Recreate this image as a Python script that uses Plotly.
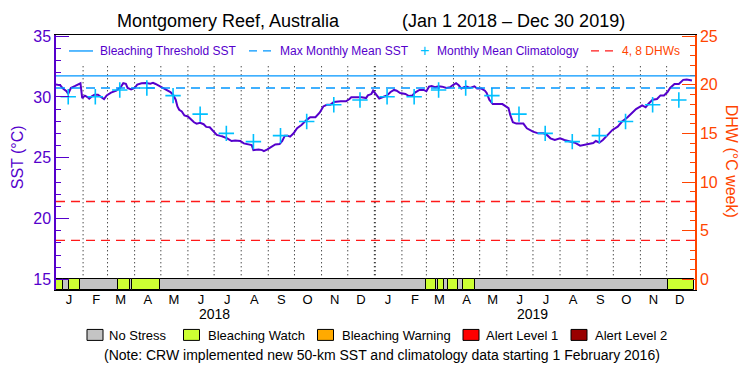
import pandas as pd
import plotly.graph_objects as go

# ---------------- data ----------------
START = "2018-01-01"
sst_day = [0, 5, 8, 12, 14, 17, 22, 27, 28, 30,
           33, 36, 38, 41, 44, 48, 51, 55, 58, 63,
           69, 74, 77, 80, 82, 86, 90, 93, 98, 103,
           108, 111, 114, 117, 121, 124, 128, 131, 134, 137,
           139, 141, 144, 147, 151, 154, 158, 161, 165, 169,
           172, 176, 180, 184, 188, 190, 196, 201, 205, 211,
           215, 220, 224, 226, 232, 236, 238, 242, 247, 251,
           256, 259, 262, 265, 268, 272, 276, 281, 287, 291,
           297, 302, 306, 310, 314, 318, 326, 332, 336, 338,
           350, 355, 357, 361, 363, 366, 370, 375, 379, 383,
           387, 390, 394, 400, 404, 408, 411, 416, 421, 424,
           427, 430, 434, 438, 442, 447, 451, 454, 458, 461,
           464, 467, 470, 474, 479, 482, 487, 491, 493, 496,
           500, 511, 515, 518, 520, 523, 527, 535, 539, 542,
           546, 552, 558, 562, 566, 571, 577, 582, 588, 594,
           600, 604, 609, 615, 618, 622, 626, 632, 637, 643,
           648, 654, 659, 664, 671, 675, 678, 683, 688, 692,
           696, 700, 703, 708, 713, 718, 722, 728]
sst_val = [31.02, 30.96, 30.69, 30.47, 30.25, 30.74, 30.91, 31.10, 31.13, 29.91,
           30.11, 29.99, 29.86, 30.05, 30.19, 30.19, 30.05, 29.83, 30.13, 30.36,
           30.52, 30.80, 31.13, 31.08, 30.74, 30.63, 30.74, 31.02, 31.13, 31.16,
           31.10, 31.16, 31.07, 30.96, 30.80, 30.69, 30.58, 30.41, 30.19, 29.78,
           29.22, 28.95, 28.81, 28.48, 28.40, 28.20, 27.92, 27.81, 27.87, 27.76,
           27.54, 27.51, 27.15, 26.88, 26.80, 26.77, 26.60, 26.38, 26.41, 26.38,
           26.18, 26.10, 26.05, 25.63, 25.68, 25.63, 25.55, 25.69, 25.91, 26.10,
           26.13, 26.38, 26.82, 26.82, 26.74, 27.01, 27.43, 27.70, 28.12, 28.34,
           28.34, 28.73, 29.22, 29.36, 29.36, 29.58, 29.64, 29.64, 29.83, 29.97,
           29.97, 29.91, 30.13, 30.24, 30.52, 30.22, 29.88, 30.02, 30.13, 30.41,
           30.58, 30.52, 30.33, 30.25, 30.08, 30.13, 30.36, 30.58, 30.58, 30.47,
           30.85, 30.91, 30.80, 30.88, 30.85, 30.74, 30.80, 30.96, 31.13, 30.96,
           30.69, 30.80, 30.85, 30.74, 30.88, 30.69, 30.69, 30.52, 30.33, 29.78,
           29.42, 29.42, 29.23, 29.09, 28.53, 27.92, 27.81, 27.81, 27.42, 27.29,
           27.15, 27.01, 27.01, 26.88, 26.60, 26.46, 26.60, 26.46, 26.38, 26.24,
           26.00, 26.05, 26.10, 26.21, 26.38, 26.24, 26.46, 26.93, 27.29, 27.56,
           27.98, 28.31, 28.67, 29.01, 29.31, 29.15, 29.42, 29.78, 29.83, 30.13,
           30.13, 30.41, 30.74, 31.07, 31.07, 31.41, 31.44, 31.35]

# monthly mean climatology (same each year), plotted mid-month
clim_months = ["Jan", "Feb", "Mar", "Apr", "May", "Jun", "Jul", "Aug", "Sep", "Oct", "Nov", "Dec"]
clim_val = [30.02, 30.02, 30.58, 30.74, 30.11, 28.59, 27.01, 26.33, 26.82, 27.98, 29.36, 29.75]
years = [2018, 2019]

mmm = 30.74                # Max Monthly Mean SST
threshold = mmm + 1.0      # Bleaching Threshold SST
dhw_levels = [4, 8]        # DHW reference lines

# alert status strip (day offsets from START)
strip_start = [0, 8, 15, 28, 71, 84.5, 87, 119, 423, 435, 437.5, 444, 449, 460, 466, 480, 701]
strip_end = [8, 15, 28, 71, 84.5, 87, 119, 423, 435, 437.5, 444, 449, 460, 466, 480, 701, 730]
strip_level = [1, 0, 1, 0, 1, 0, 1, 0, 1, 0, 1, 0, 1, 0, 1, 0, 1]

status_names = ["No Stress", "Bleaching Watch", "Bleaching Warning", "Alert Level 1", "Alert Level 2"]
status_colors = ["#c4c4c4", "#ccff33", "#ffaa00", "#ff0000", "#990000"]
month_letters = ["J", "F", "M", "A", "M", "J", "J", "A", "S", "O", "N", "D"]

# ---------------- styling ----------------
PURPLE = "#5500cc"
ORANGE = "#ff4500"
BLUE = "#0096ff"
CYAN = "#00c0ff"
RED = "#ff1a1a"
FONT = "Liberation Sans, Arial, sans-serif"

Y_LO, Y_HI = 14.12, 35.1


def sst_to_dhw(v):
    return (v - 15.0) * 1.25


# pixel helpers for decorations (plot area 56..695 x 35..290.5)
def fx(p):
    return (p - 56.0) / 639.0


def fy(p):
    return (290.5 - p) / 255.5


base = pd.Timestamp(START)
sst_dates = base + pd.to_timedelta(sst_day, unit="D")

clim_dates = [pd.Timestamp(f"{y}-{m}-15") for y in years for m in range(1, 13)]
clim_y = [clim_val[m] for y in years for m in range(12)]

fig = go.Figure()

# alert strip as horizontal bars on the date axis
fig.add_trace(go.Bar(
    orientation="h",
    base=[(base + pd.Timedelta(days=s)).strftime("%Y-%m-%d %H:%M") for s in strip_start],
    x=[(e - s) * 86400000 for s, e in zip(strip_start, strip_end)],
    y=[(Y_LO + 15.0) / 2] * len(strip_start),
    width=15.0 - Y_LO,
    marker=dict(color=[status_colors[l] for l in strip_level], line=dict(color="black", width=1)),
    showlegend=False, hoverinfo="skip",
))

# SST line
fig.add_trace(go.Scatter(
    x=sst_dates, y=sst_val, mode="lines",
    line=dict(color=PURPLE, width=2), showlegend=False,
))

# climatology crosses
fig.add_trace(go.Scatter(
    x=clim_dates, y=clim_y, mode="markers",
    marker=dict(symbol="cross-thin", size=11, line=dict(color=CYAN, width=1.6)),
    showlegend=False,
))

# dummy trace on right axis
fig.add_trace(go.Scatter(x=[sst_dates[0]], y=[0], yaxis="y2", mode="markers",
                         marker=dict(opacity=0), showlegend=False, hoverinfo="skip"))

shapes = []
# month boundary dotted lines
for y in years:
    for m in range(1, 13):
        if y == years[0] and m == 1:
            continue
        d = pd.Timestamp(f"{y}-{m:02d}-01")
        wide = (m == 1)
        shapes.append(dict(type="line", xref="x", yref="y", x0=d, x1=d, y0=15.0, y1=32.55,
                           line=dict(color="black", width=2 if wide else 1, dash="1px,3px"),
                           layer="below"))
# threshold and MMM lines
shapes.append(dict(type="line", xref="paper", yref="y", x0=0, x1=1, y0=threshold, y1=threshold,
                   line=dict(color=BLUE, width=1.3)))
shapes.append(dict(type="line", xref="paper", yref="y", x0=0, x1=1, y0=mmm, y1=mmm,
                   line=dict(color=BLUE, width=1.3, dash="9px,6px")))
# DHW lines
for lv in dhw_levels:
    shapes.append(dict(type="line", xref="paper", yref="y2", x0=0, x1=1, y0=lv, y1=lv,
                       line=dict(color=RED, width=1.3, dash="9px,6px")))

annotations = []
# top legend
LY = fy(51)
shapes.append(dict(type="line", xref="paper", yref="paper", x0=fx(69), x1=fx(93), y0=LY, y1=LY,
                   line=dict(color=BLUE, width=1.3)))
shapes.append(dict(type="line", xref="paper", yref="paper", x0=fx(249), x1=fx(272), y0=LY, y1=LY,
                   line=dict(color=BLUE, width=1.3, dash="8px,6px")))
shapes.append(dict(type="line", xref="paper", yref="paper", x0=fx(591), x1=fx(613), y0=LY, y1=LY,
                   line=dict(color=RED, width=1.3, dash="8px,6px")))
for txt, x0, col in [("Bleaching Threshold SST", 98, PURPLE), ("Max Monthly Mean SST", 278, PURPLE),
                     ("Monthly Mean Climatology", 435, PURPLE), ("4, 8 DHWs", 620, ORANGE)]:
    annotations.append(dict(text=txt, xref="paper", yref="paper", x=fx(x0), y=LY, xanchor="left",
                            yanchor="middle", showarrow=False, font=dict(family=FONT, size=12, color=col)))
annotations.append(dict(text="+", xref="paper", yref="paper", x=fx(424), y=LY, xanchor="center",
                        yanchor="middle", showarrow=False, font=dict(family=FONT, size=16, color=CYAN)))

# title
annotations.append(dict(text="Montgomery Reef, Australia", xref="paper", yref="paper", x=fx(228.5),
                        y=fy(21), xanchor="center", yanchor="middle", showarrow=False,
                        font=dict(family=FONT, size=18, color="black")))
annotations.append(dict(text="(Jan 1 2018 \u2013 Dec 30 2019)", xref="paper", yref="paper", x=fx(513),
                        y=fy(21), xanchor="center", yanchor="middle", showarrow=False,
                        font=dict(family=FONT, size=18, color="black")))

# axis titles
annotations.append(dict(text="SST (\u00b0C)", xref="paper", yref="paper", x=fx(17.5), y=fy(158),
                        xanchor="center", yanchor="middle", textangle=-90, showarrow=False,
                        font=dict(family=FONT, size=16, color=PURPLE)))
annotations.append(dict(text="DHW (\u00b0C week)", xref="paper", yref="paper", x=fx(731), y=fy(161),
                        xanchor="center", yanchor="middle", textangle=90, showarrow=False,
                        font=dict(family=FONT, size=16, color=ORANGE)))

# year labels
for y in years:
    annotations.append(dict(text=str(y), xref="x", yref="paper", x=pd.Timestamp(f"{y}-07-01"),
                            y=fy(315), xanchor="center", yanchor="middle", showarrow=False,
                            font=dict(family=FONT, size=14, color="black")))

# bottom legend
box_x = [87, 183.5, 317.5, 463, 571]
txt_x = [107, 206, 339.5, 484, 592.5]
for name, col, bx, tx in zip(status_names, status_colors, box_x, txt_x):
    shapes.append(dict(type="rect", xref="paper", yref="paper", x0=fx(bx), x1=fx(bx + 16),
                       y0=fy(341), y1=fy(330), fillcolor=col, line=dict(color="black", width=1)))
    annotations.append(dict(text=name, xref="paper", yref="paper", x=fx(tx), y=fy(336),
                            xanchor="left", yanchor="middle", showarrow=False,
                            font=dict(family=FONT, size=13, color="black")))
annotations.append(dict(text="(Note: CRW implemented new 50-km SST and climatology data starting 1 February 2016)",
                        xref="paper", yref="paper", x=fx(382), y=fy(356), xanchor="center",
                        yanchor="middle", showarrow=False, font=dict(family=FONT, size=14, color="black")))

month_ticks = [pd.Timestamp(f"{y}-{m:02d}-16") for y in years for m in range(1, 13)]
month_text = [month_letters[m] for y in years for m in range(12)]

fig.update_layout(
    width=750, height=375, autosize=False,
    margin=dict(l=56, r=55, t=35, b=84.5, pad=0),
    paper_bgcolor="white", plot_bgcolor="white",
    font=dict(family=FONT),
    shapes=shapes, annotations=annotations,
    bargap=0,
    xaxis=dict(type="date", range=["2018-01-01", "2020-01-02 12:00"],
               tickmode="array", tickvals=month_ticks, ticktext=month_text,
               ticks="", showgrid=False, zeroline=False, ticklabelstandoff=-3,
               showline=True, linecolor="black", linewidth=1, mirror=True,
               tickfont=dict(family=FONT, size=13, color="black")),
    yaxis=dict(range=[Y_LO, Y_HI], tickmode="array", tickvals=[15, 20, 25, 30, 35],
               ticks="inside", ticklen=13, tickcolor=PURPLE, tickwidth=1,
               minor=dict(tickmode="array", tickvals=[v for v in range(15, 36) if v % 5], ticks="inside",
                          ticklen=5, tickcolor=PURPLE, tickwidth=1),
               showgrid=False, zeroline=False, showline=True, linecolor=PURPLE, linewidth=1.5,
               tickfont=dict(family=FONT, size=16, color=PURPLE)),
    yaxis2=dict(overlaying="y", side="right", range=[sst_to_dhw(Y_LO), sst_to_dhw(Y_HI)],
                tickmode="array", tickvals=[0, 5, 10, 15, 20, 25],
                ticks="inside", ticklen=13, tickcolor=ORANGE, tickwidth=1,
                minor=dict(tickmode="array", tickvals=[v for v in range(0, 26) if v % 5], ticks="inside",
                           ticklen=5, tickcolor=ORANGE, tickwidth=1),
                showgrid=False, zeroline=False, showline=True, linecolor=ORANGE, linewidth=1.5,
                tickfont=dict(family=FONT, size=16, color=ORANGE)),
)

fig.write_html("out.html", config={"displayModeBar": False},
               post_script="document.body.style.margin='0';")
